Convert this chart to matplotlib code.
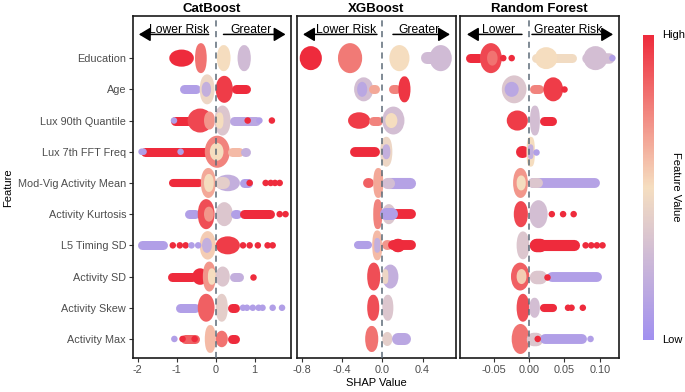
import matplotlib
matplotlib.use("Agg")
import matplotlib.pyplot as plt
from matplotlib.colors import LinearSegmentedColormap
from matplotlib.patches import Ellipse
from matplotlib.cm import ScalarMappable

plt.rcParams['font.family'] = ['Liberation Sans', 'DejaVu Sans']

features = ["Education", "Age", "Lux 90th Quantile", "Lux 7th FFT Freq",
            "Mod-Vig Activity Mean", "Activity Kurtosis", "L5 Timing SD",
            "Activity SD", "Activity Skew", "Activity Max"]
models = ["CatBoost", "XGBoost", "Random Forest"]

# each feature: (shap from, shap to, density width 0..1, feature value 0..1)
catboost_pieces = [
    [(-1.19, -0.56, 0.57, 1.0), (-0.53, -0.23, 1.0, 0.8), (0.03, 0.38, 0.87, 0.5), (0.56, 0.90, 0.87, 0.28)],
    [(-0.93, -0.38, 0.3, 0.1), (-0.41, -0.03, 1.0, 0.45), (-0.36, -0.12, 0.5, 0.2), (0.0, 0.44, 0.9, 0.95), (0.4, 0.9, 0.3, 1.0)],
    [(-1.15, -0.6, 0.3, 1.0), (-0.72, -0.08, 0.8, 0.92), (-0.3, -0.02, 0.6, 0.7), (-0.03, 0.38, 1.0, 0.35), (0.0, 0.2, 0.55, 0.5), (0.35, 1.15, 0.3, 0.15)],
    [(-1.92, -0.15, 0.3, 1.0), (-0.28, 0.36, 1.07, 0.75), (-0.15, 0.2, 0.6, 0.5), (0.3, 0.7, 0.3, 0.6), (0.65, 0.87, 0.3, 0.2)],
    [(-1.2, -0.33, 0.27, 1.0), (-0.38, 0.0, 1.0, 0.65), (-0.3, -0.05, 0.6, 0.5), (0.0, 0.62, 0.55, 0.2), (0.05, 0.3, 0.4, 0.4), (0.6, 0.95, 0.3, 0.1)],
    [(-0.8, -0.41, 0.3, 0.1), (-0.46, -0.03, 1.0, 0.9), (-0.3, -0.05, 0.5, 0.7), (0.0, 0.44, 0.8, 0.35), (0.42, 0.62, 0.3, 0.1), (0.62, 1.5, 0.3, 1.0)],
    [(-2.0, -1.23, 0.3, 0.1), (-0.41, 0.0, 0.95, 0.55), (-0.35, -0.1, 0.5, 0.2), (0.0, 0.62, 0.6, 0.95)],
    [(-1.23, -0.5, 0.3, 1.0), (-0.6, -0.2, 0.55, 1.0), (-0.33, 0.0, 1.0, 0.7), (-0.2, 0.0, 0.55, 0.5), (0.0, 0.36, 0.67, 0.35), (0.36, 0.7, 0.3, 0.2)],
    [(-1.02, -0.41, 0.3, 0.1), (-0.46, -0.03, 0.93, 0.85), (0.0, 0.31, 0.93, 0.4), (0.31, 0.62, 0.3, 1.0)],
    [(-0.9, -0.41, 0.3, 0.85), (-0.28, 0.0, 0.93, 0.6), (0.0, 0.31, 0.55, 0.8), (0.31, 0.62, 0.3, 1.0)],
]
xgboost_pieces = [
    [(-0.82, -0.6, 0.8, 1.0), (-0.65, -0.53, 0.4, 1.0), (-0.44, -0.2, 1.0, 0.78), (0.07, 0.27, 0.87, 0.5), (0.43, 0.5, 0.4, 0.28), (0.47, 0.69, 0.87, 0.28)],
    [(-0.28, -0.09, 0.8, 0.3), (-0.25, -0.15, 0.5, 0.15), (-0.12, -0.05, 0.3, 0.65), (0.06, 0.18, 0.3, 0.75), (0.16, 0.28, 0.87, 0.97)],
    [(-0.34, -0.12, 0.55, 0.95), (-0.14, 0.0, 0.3, 0.75), (0.0, 0.22, 0.93, 0.3), (0.03, 0.15, 0.5, 0.5)],
    [(-0.32, -0.2, 0.4, 1.0), (-0.32, -0.02, 0.33, 1.0), (-0.02, 0.1, 1.0, 0.45), (0.0, 0.08, 0.5, 0.2)],
    [(-0.19, -0.08, 0.33, 0.85), (-0.09, 0.01, 1.0, 0.65), (0.01, 0.33, 0.37, 0.12), (0.01, 0.1, 0.37, 0.3)],
    [(-0.09, 0.0, 1.0, 0.75), (0.0, 0.13, 0.67, 0.35), (0.08, 0.33, 0.33, 1.0), (0.04, 0.1, 0.4, 0.1)],
    [(-0.28, -0.1, 0.27, 0.1), (-0.1, 0.0, 1.0, 0.6), (-0.08, -0.02, 0.5, 0.2), (0.01, 0.1, 0.33, 0.7), (0.06, 0.33, 0.33, 1.0), (0.08, 0.22, 0.45, 1.0)],
    [(-0.15, -0.02, 0.93, 0.9), (0.0, 0.16, 0.8, 0.2), (0.0, 0.06, 0.5, 0.45)],
    [(-0.15, -0.03, 0.87, 0.9), (0.0, 0.11, 0.87, 0.35), (0.1, 0.2, 0.33, 0.1)],
    [(-0.17, -0.04, 0.87, 0.8), (0.0, 0.1, 0.47, 0.4), (0.1, 0.29, 0.4, 0.15)],
]
forest_pieces = [
    [(-0.091, -0.065, 0.3, 1.0), (-0.07, -0.039, 1.0, 0.92), (-0.06, -0.045, 0.5, 0.8), (0.003, 0.067, 0.3, 0.48), (0.008, 0.04, 0.73, 0.5), (0.074, 0.12, 0.35, 0.3), (0.077, 0.111, 0.8, 0.3)],
    [(-0.039, -0.004, 0.93, 0.35), (-0.035, -0.015, 0.5, 0.15), (0.001, 0.02, 0.3, 0.75), (0.02, 0.048, 0.8, 0.95)],
    [(-0.032, -0.002, 0.67, 0.95), (0.001, 0.015, 1.0, 0.3), (0.015, 0.039, 0.3, 1.0)],
    [(-0.018, -0.002, 0.4, 1.0), (-0.004, 0.008, 1.0, 0.5), (-0.002, 0.006, 0.5, 0.2)],
    [(-0.023, -0.002, 1.0, 0.7), (-0.018, -0.005, 0.5, 0.5), (-0.002, 0.1, 0.33, 0.12), (-0.002, 0.02, 0.33, 0.35)],
    [(-0.022, -0.002, 0.87, 0.92), (0.0, 0.026, 0.93, 0.3)],
    [(-0.018, 0.0, 0.93, 0.35), (0.0, 0.072, 0.37, 1.0), (0.0, 0.025, 0.45, 1.0)],
    [(-0.026, 0.0, 0.93, 0.85), (-0.018, -0.004, 0.5, 0.55), (0.0, 0.025, 0.45, 0.35), (0.025, 0.103, 0.33, 0.1)],
    [(-0.018, 0.0, 0.93, 0.9), (0.0, 0.015, 0.67, 0.3), (0.015, 0.039, 0.27, 1.0)],
    [(-0.025, 0.0, 1.0, 0.8), (0.0, 0.015, 0.45, 0.35), (0.015, 0.082, 0.33, 0.1)],
]

# single points: (shap, feature value)
catboost_dots = [
    [],
    [],
    [(-1.07, 0.1), (0.82, 1.0), (1.12, 0.1), (1.44, 1.0)],
    [(-1.9, 0.1), (-1.85, 0.1), (-0.9, 0.1)],
    [(0.87, 1.0), (1.28, 1.0), (1.41, 1.0), (1.52, 1.0), (1.64, 1.0)],
    [(1.64, 1.0), (1.79, 1.0)],
    [(-1.1, 1.0), (-0.92, 1.0), (-0.77, 1.0), (-0.62, 0.1), (-0.45, 0.1), (0.7, 1.0), (0.87, 1.0), (1.08, 1.0), (1.33, 1.0), (1.46, 1.0)],
    [(0.95, 1.0)],
    [(0.7, 0.1), (0.8, 0.1), (0.95, 0.1), (1.1, 0.1), (1.2, 0.1), (1.46, 0.1), (1.7, 0.1)],
    [(-1.06, 0.1), (-0.85, 1.0), (-0.54, 1.0)],
]
xgboost_dots = [[], [], [], [], [], [], [], [], [], []]
forest_dots = [
    [(-0.037, 1.0), (-0.025, 1.0), (0.118, 0.1)],
    [(0.05, 1.0)],
    [],
    [(0.01, 0.1)],
    [],
    [(0.032, 1.0), (0.048, 1.0), (0.063, 1.0)],
    [(0.08, 1.0), (0.088, 1.0), (0.096, 1.0), (0.104, 1.0)],
    [(0.025, 1.0)],
    [(0.055, 1.0), (0.06, 1.0), (0.076, 1.0)],
    [(0.012, 1.0), (0.087, 0.1)],
]

all_pieces = [catboost_pieces, xgboost_pieces, forest_pieces]
all_dots = [catboost_dots, xgboost_dots, forest_dots]
xlims = [(-2.12, 1.93), (-0.847, 0.732), (-0.0984, 0.1274)]
xticks = [[-2, -1, 0, 1], [-0.8, -0.4, 0.0, 0.4], [-0.05, 0.0, 0.05, 0.10]]
xticklabels = [["-2", "-1", "0", "1"], ["-0.8", "-0.4", "0.0", "0.4"], ["-0.05", "0.00", "0.05", "0.10"]]
left_text = ["Lower Risk", "Lower Risk", "Lower"]
right_text = ["Greater", "Greater", "Greater Risk"]
# arrow spans: left head, left tail, right tail, right head
arrows = [(-1.97, -0.18, 0.2, 1.79), (-0.787, -0.053, 0.106, 0.672), (-0.0885, -0.0104, 0.0038, 0.119)]

cmap = LinearSegmentedColormap.from_list("shap", ["#A190F0", "#F5DEC0", "#EE2B3C"])

fig = plt.figure(figsize=(6.85, 3.92), dpi=100)
lefts = [133, 297, 460]
widths = [158, 159, 159]
ylim = (0.39, 11.35)
row_px = 342 / (ylim[1] - ylim[0])
lw_px = 5
arrow_style = "-|>,head_length=0.5,head_width=0.3"

for k in range(3):
    ax = fig.add_axes([lefts[k] / 685, 34 / 392, widths[k] / 685, 342 / 392])
    ax.set_xlim(*xlims[k])
    ax.set_ylim(*ylim)
    xpp = (xlims[k][1] - xlims[k][0]) / widths[k]
    for i, feat in enumerate(features):
        y = 10 - i
        for x0, x1, w, c in all_pieces[k][i]:
            col = cmap(c)
            half = w * 15
            if w <= 0.45:
                r = half * xpp
                ax.plot([x0 + r, x1 - r], [y, y], color=col, lw=2 * half * 0.72,
                        solid_capstyle='round', zorder=2)
            else:
                ew = max(x1 - x0 - lw_px * xpp, 1e-9)
                eh = max(2 * half - lw_px, 0) / row_px
                ax.add_patch(Ellipse(((x0 + x1) / 2, y), ew, eh, facecolor=col, edgecolor=col,
                                     lw=lw_px * 0.72, joinstyle='round', zorder=2))
        dots = all_dots[k][i]
        if dots:
            ax.scatter([d[0] for d in dots], [y] * len(dots), s=22,
                       c=[cmap(d[1]) for d in dots], linewidths=0, zorder=3)
    ax.axvline(0, color="#5C6B78", lw=1.1, ls=(0, (4, 3)), zorder=4)

    lh, lt, rt, rh = arrows[k]
    for head, tail in [(lh, lt), (rh, rt)]:
        ax.annotate("", xy=(head, 10.76), xytext=(tail, 10.76),
                    arrowprops=dict(arrowstyle=arrow_style, color="black", lw=1.1,
                                    mutation_scale=14, shrinkA=0, shrinkB=0))
    ax.text((lh + lt) / 2 + (lt - lh) * 0.08, 10.82, left_text[k], ha="center", va="baseline", fontsize=8.7)
    ax.text((rt + rh) / 2 - (rh - rt) * 0.05, 10.82, right_text[k], ha="center", va="baseline", fontsize=8.7)

    ax.set_title(models[k], fontsize=9.5, fontweight="bold", pad=3)
    ax.set_xticks(xticks[k])
    ax.set_xticklabels(xticklabels[k])
    ax.tick_params(axis="x", length=3, width=0.8, color="#333333", labelsize=7.8,
                   labelcolor="#4D4D4D", pad=2)
    if k == 0:
        ax.set_yticks(range(10, 0, -1))
        ax.set_yticklabels(features)
        ax.tick_params(axis="y", length=3, width=0.8, color="#333333", labelsize=7.8,
                       labelcolor="#4D4D4D", pad=2)
    else:
        ax.set_yticks([])
    for s in ax.spines.values():
        s.set_linewidth(1.2)
        s.set_color("#1A1A1A")
    if k == 1:
        ax.set_xlabel("SHAP Value", fontsize=8, labelpad=2)

fig.text(8 / 685, 1 - 188 / 392, "Feature", rotation=90, ha="center", va="center", fontsize=8)

cax = fig.add_axes([643 / 685, 52 / 392, 11 / 685, 305 / 392])
cb = fig.colorbar(ScalarMappable(cmap=cmap), cax=cax)
cb.outline.set_visible(False)
cb.set_ticks([])
fig.text(662 / 685, 1 - 35 / 392, "High", ha="left", va="center", fontsize=8)
fig.text(662 / 685, 1 - 340 / 392, "Low", ha="left", va="center", fontsize=8)
fig.text(676 / 685, 1 - 187 / 392, "Feature Value", rotation=270, ha="center", va="center", fontsize=8)

fig.savefig("out.png", dpi=100)
